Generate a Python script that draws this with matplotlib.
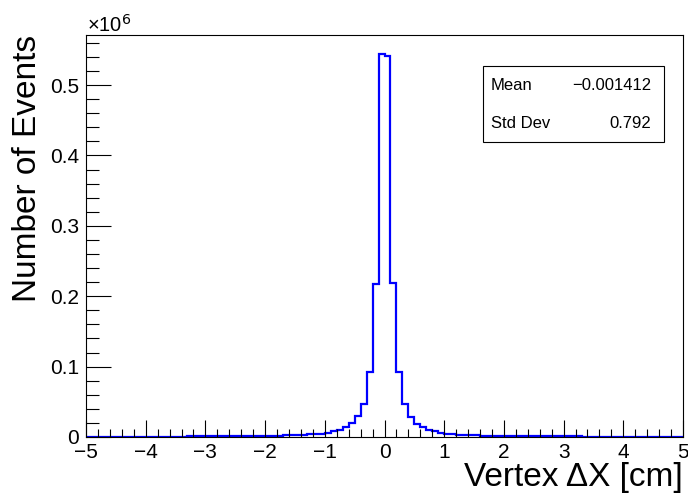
import numpy as np
import matplotlib
matplotlib.use('Agg')
import matplotlib.pyplot as plt
from matplotlib.patches import Rectangle
from matplotlib.ticker import MultipleLocator, FuncFormatter

plt.rcParams['font.family'] = ['Liberation Sans', 'DejaVu Sans']

# histogram binning: 100 bins from -5 to 5 cm
x_min, x_max, n_bins = -5.0, 5.0, 100

# bin contents in units of 10^6 events
counts_neg = [
    0.0006, 0.0006, 0.0006, 0.0006, 0.0006, 0.0006, 0.0006, 0.0006, 0.0006, 0.0006,   # -5.0 .. -4.0
    0.0006, 0.0006, 0.0006, 0.0006, 0.0006, 0.0006, 0.0006, 0.0013, 0.0013, 0.0013,   # -4.0 .. -3.0
    0.0013, 0.0013, 0.0013, 0.0013, 0.0013, 0.0013, 0.0013, 0.0013, 0.0013, 0.0013,   # -3.0 .. -2.0
    0.0013, 0.0013, 0.0013, 0.0022, 0.0025, 0.0028, 0.0032, 0.0036, 0.0042, 0.0048,   # -2.0 .. -1.0
    0.0062, 0.0080, 0.0104, 0.0142, 0.0199, 0.0293, 0.0470, 0.0930, 0.2180, 0.5440,   # -1.0 .. 0.0
]
counts_pos = [
    0.5420, 0.2190, 0.0920, 0.0470, 0.0280, 0.0190, 0.0135, 0.0104, 0.0080, 0.0062,   # 0.0 .. 1.0
    0.0048, 0.0040, 0.0035, 0.0031, 0.0027, 0.0024, 0.0021, 0.0013, 0.0013, 0.0013,   # 1.0 .. 2.0
    0.0013, 0.0013, 0.0013, 0.0013, 0.0013, 0.0013, 0.0013, 0.0013, 0.0013, 0.0013,   # 2.0 .. 3.0
    0.0013, 0.0013, 0.0013, 0.0006, 0.0006, 0.0006, 0.0006, 0.0006, 0.0006, 0.0006,   # 3.0 .. 4.0
    0.0006, 0.0006, 0.0006, 0.0006, 0.0006, 0.0006, 0.0006, 0.0006, 0.0006, 0.0006,   # 4.0 .. 5.0
]

stat_labels = ['Mean', 'Std Dev']
stat_values = ['\u22120.001412', '0.792']

counts = np.array(counts_neg + counts_pos)
edges = np.linspace(x_min, x_max, n_bins + 1)

fig = plt.figure(figsize=(6.88, 4.93), dpi=100)
ax = fig.add_axes([86/688, 56/493, 597/688, 402/493])

ax.stairs(counts, edges, baseline=None, color='#0000ff', linewidth=1.6)

ax.set_xlim(x_min, x_max)
ax.set_ylim(0, counts.max() * 1.05)

ax.xaxis.set_major_locator(MultipleLocator(1))
ax.xaxis.set_minor_locator(MultipleLocator(0.2))
ax.yaxis.set_major_locator(MultipleLocator(0.1))
ax.yaxis.set_minor_locator(MultipleLocator(0.02))
ax.yaxis.set_major_formatter(FuncFormatter(lambda v, p: '%g' % round(v, 3)))

ax.tick_params(axis='x', which='major', direction='in', length=12, width=0.8, labelsize=15, pad=4)
ax.tick_params(axis='x', which='minor', direction='in', length=6, width=0.8)
ax.tick_params(axis='y', which='major', direction='in', length=18, width=0.8, labelsize=15, pad=5)
ax.tick_params(axis='y', which='minor', direction='in', length=9, width=0.8)
for s in ax.spines.values():
    s.set_linewidth(0.8)

ax.set_xlabel('Vertex \u0394X [cm]', fontsize=24, loc='right', labelpad=0)
ax.set_ylabel('Number of Events', fontsize=24, loc='top', labelpad=5)

fig.text(87/688, 1 - 32/493, '\u00d710$^{6}$', fontsize=14.5, ha='left', va='baseline')

# stats box
box = Rectangle((0.665, 0.7346), 0.303, 0.1884, transform=ax.transAxes,
                facecolor='white', edgecolor='black', linewidth=0.8, zorder=5)
ax.add_patch(box)
ys = [0.875, 0.78]
for lab, val, yy in zip(stat_labels, stat_values, ys):
    ax.text(0.678, yy, lab, transform=ax.transAxes, fontsize=12, ha='left', va='center', zorder=6)
    ax.text(0.947, yy, val, transform=ax.transAxes, fontsize=12, ha='right', va='center', zorder=6)

plt.savefig('out.png', dpi=100)
